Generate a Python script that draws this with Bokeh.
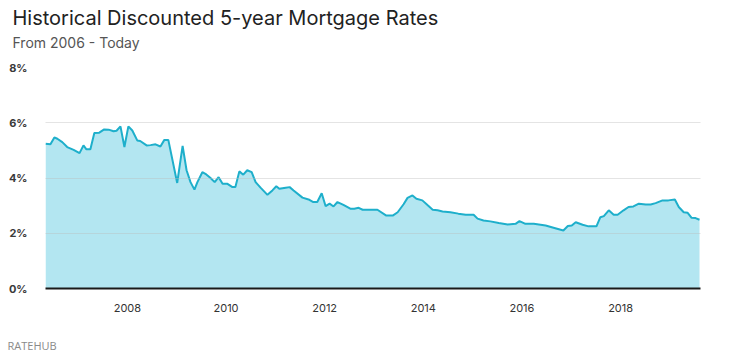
from bokeh.plotting import figure
from bokeh.models import Range1d, Title, FixedTicker, CustomJSTickFormatter
from bokeh.embed import file_html
from bokeh.resources import INLINE

# Decimal-year positions and discounted 5-year rates (%)
year = [2006.34, 2006.44, 2006.52, 2006.58, 2006.68, 2006.78, 2006.91, 2007.03, 2007.11, 2007.17,
        2007.25, 2007.33, 2007.43, 2007.53, 2007.62, 2007.72, 2007.78, 2007.86, 2007.94, 2008.02,
        2008.10, 2008.20, 2008.26, 2008.39, 2008.47, 2008.57, 2008.67, 2008.75, 2008.83, 2009.01,
        2009.12, 2009.20, 2009.28, 2009.36, 2009.42, 2009.52, 2009.60, 2009.68, 2009.77, 2009.85,
        2009.93, 2010.03, 2010.13, 2010.19, 2010.27, 2010.35, 2010.43, 2010.52, 2010.60, 2010.70,
        2010.84, 2010.94, 2011.02, 2011.08, 2011.21, 2011.29, 2011.37, 2011.55, 2011.69, 2011.77,
        2011.85, 2011.94, 2012.02, 2012.10, 2012.18, 2012.26, 2012.38, 2012.52, 2012.60, 2012.69,
        2012.77, 2012.93, 2013.07, 2013.25, 2013.38, 2013.48, 2013.60, 2013.68, 2013.78, 2013.86,
        2013.98, 2014.09, 2014.19, 2014.29, 2014.39, 2014.55, 2014.71, 2014.86, 2015.02, 2015.10,
        2015.22, 2015.36, 2015.53, 2015.71, 2015.87, 2015.95, 2016.07, 2016.24, 2016.48, 2016.64,
        2016.84, 2016.93, 2017.01, 2017.09, 2017.23, 2017.35, 2017.51, 2017.59, 2017.66, 2017.76,
        2017.86, 2017.94, 2018.06, 2018.16, 2018.26, 2018.37, 2018.51, 2018.61, 2018.71, 2018.85,
        2018.97, 2019.10, 2019.18, 2019.28, 2019.36, 2019.44, 2019.52, 2019.60]
rate = [5.24, 5.22, 5.47, 5.42, 5.30, 5.12, 5.02, 4.90, 5.18, 5.04,
        5.04, 5.63, 5.64, 5.76, 5.75, 5.69, 5.71, 5.87, 5.12, 5.87,
        5.72, 5.36, 5.34, 5.18, 5.19, 5.22, 5.14, 5.38, 5.38, 3.82,
        5.16, 4.28, 3.85, 3.58, 3.85, 4.21, 4.13, 4.01, 3.85, 4.03,
        3.79, 3.79, 3.67, 3.67, 4.24, 4.12, 4.28, 4.21, 3.85, 3.65,
        3.39, 3.55, 3.70, 3.61, 3.65, 3.67, 3.55, 3.29, 3.21, 3.13,
        3.13, 3.45, 2.98, 3.07, 2.97, 3.13, 3.03, 2.89, 2.89, 2.92,
        2.85, 2.85, 2.85, 2.64, 2.64, 2.76, 3.05, 3.28, 3.37, 3.25,
        3.19, 3.01, 2.85, 2.83, 2.79, 2.76, 2.71, 2.67, 2.67, 2.53,
        2.46, 2.43, 2.37, 2.32, 2.34, 2.44, 2.34, 2.34, 2.28, 2.20,
        2.10, 2.26, 2.28, 2.40, 2.31, 2.25, 2.25, 2.58, 2.62, 2.83,
        2.67, 2.67, 2.83, 2.95, 2.97, 3.07, 3.04, 3.04, 3.09, 3.19,
        3.19, 3.22, 2.95, 2.76, 2.74, 2.56, 2.55, 2.49]

x_ticks = [2008, 2010, 2012, 2014, 2016, 2018]
y_ticks = [0, 2, 4, 6, 8]

title_text = "Historical Discounted 5-year Mortgage Rates"
subtitle_text = "From 2006 - Today"
source_text = "RATEHUB"

FONT = "Inter"

p = figure(width=730, height=357, output_backend="svg", toolbar_location=None,
           x_range=Range1d(year[0], 2019.62), y_range=Range1d(0, 8),
           min_border_left=45, min_border_right=30, min_border_top=67, min_border_bottom=69)
p.outline_line_color = None
p.background_fill_color = "white"
p.border_fill_color = "white"
p.title.visible = False

p.varea(x=year, y1=0, y2=rate, fill_color="#b3e6f1", fill_alpha=1.0)
p.line(x=year, y=rate, line_color="#1eafcb", line_width=2)

p.xgrid.visible = False
p.ygrid.ticker = FixedTicker(ticks=y_ticks)
p.ygrid.grid_line_color = "#bbbbbb"
p.ygrid.grid_line_alpha = 0.4
p.ygrid.level = "overlay"

p.yaxis.ticker = FixedTicker(ticks=y_ticks)
p.yaxis.formatter = CustomJSTickFormatter(code="return tick + '%';")
p.yaxis.axis_line_color = None
p.yaxis.major_tick_line_color = None
p.yaxis.minor_tick_line_color = None
p.yaxis.major_label_text_font = FONT
p.yaxis.major_label_text_font_size = "11px"
p.yaxis.major_label_text_font_style = "bold"
p.yaxis.major_label_text_color = "#3a3a3a"
p.yaxis.major_label_standoff = 12

p.xaxis.ticker = FixedTicker(ticks=x_ticks)
p.xaxis.formatter = CustomJSTickFormatter(code="return String(tick);")
p.xaxis.axis_line_color = "#1a1a1a"
p.xaxis.axis_line_width = 2
p.xaxis.major_tick_line_color = None
p.xaxis.minor_tick_line_color = None
p.xaxis.major_label_text_font = FONT
p.xaxis.major_label_text_font_size = "11px"
p.xaxis.major_label_text_font_style = "normal"
p.xaxis.major_label_text_color = "#333333"
p.xaxis.major_label_standoff = 9

# Header: spacer next to the frame, then subtitle, then title (stacked upward)
p.add_layout(Title(text=" ", text_font_size="1px", standoff=13), "above")
p.add_layout(Title(text=subtitle_text, text_font=FONT, text_font_size="14px",
                   text_font_style="normal", text_color="#555555", align="left",
                   offset=-33, standoff=2), "above")
p.add_layout(Title(text=title_text, text_font=FONT, text_font_size="20px",
                   text_font_style="normal", text_color="#222222", align="left",
                   offset=-33, standoff=1), "above")
# Footer: spacer under the axis, then the source note
p.add_layout(Title(text=" ", text_font_size="1px", standoff=17), "below")
p.add_layout(Title(text=source_text, text_font="Open Sans", text_font_size="11px",
                   text_font_style="normal", text_color="#8a8a8a", align="left",
                   offset=-38, standoff=2), "below")

open("out.html", "w").write(file_html(p, INLINE))
